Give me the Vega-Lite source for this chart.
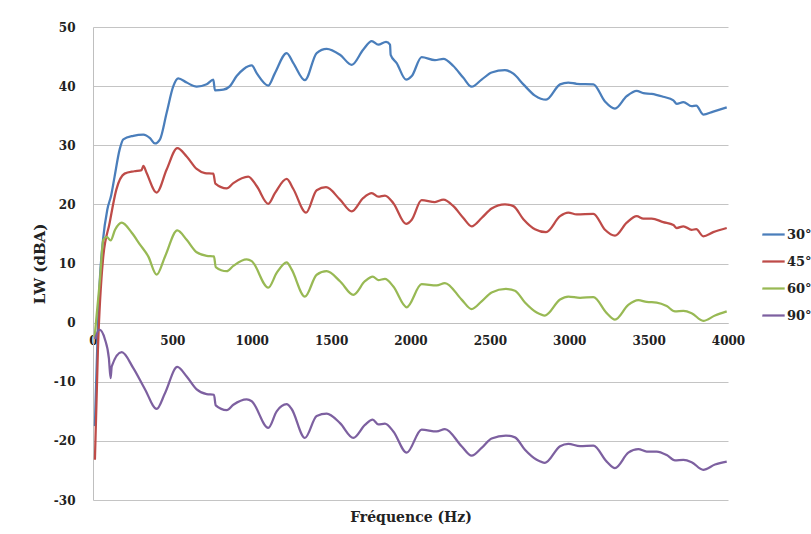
{
  "$schema": "https://vega.github.io/schema/vega-lite/v6.json",
  "width": 635,
  "height": 473,
  "autosize": {"type": "none"},
  "padding": {"left": 93, "top": 27, "right": 83, "bottom": 34},
  "background": "white",
  "config": {"view": {"stroke": null}, "font": "DejaVu Serif"},
  "data": {"values": [
    {"a":"30°","f":12,"v":-17.5},{"a":"30°","f":42,"v":6.8},{"a":"30°","f":63,"v":14},{"a":"30°","f":90,"v":19.1},{"a":"30°","f":115,"v":21.6},{"a":"30°","f":136,"v":24.7},{"a":"30°","f":168,"v":29.3},{"a":"30°","f":191,"v":31},{"a":"30°","f":254,"v":31.6},{"a":"30°","f":317,"v":31.8},{"a":"30°","f":359,"v":31.2},{"a":"30°","f":390,"v":30.3},{"a":"30°","f":422,"v":31},{"a":"30°","f":464,"v":35.5},{"a":"30°","f":506,"v":40},{"a":"30°","f":537,"v":41.3},{"a":"30°","f":590,"v":40.6},{"a":"30°","f":653,"v":39.9},{"a":"30°","f":716,"v":40.3},{"a":"30°","f":758,"v":41.1},{"a":"30°","f":768,"v":39.3},{"a":"30°","f":821,"v":39.4},{"a":"30°","f":863,"v":40},{"a":"30°","f":905,"v":41.7},{"a":"30°","f":950,"v":42.9},{"a":"30°","f":1000,"v":43.5},{"a":"30°","f":1031,"v":42.2},{"a":"30°","f":1104,"v":40.1},{"a":"30°","f":1146,"v":42.2},{"a":"30°","f":1220,"v":45.6},{"a":"30°","f":1262,"v":43.9},{"a":"30°","f":1335,"v":41},{"a":"30°","f":1409,"v":45.6},{"a":"30°","f":1472,"v":46.3},{"a":"30°","f":1556,"v":45.3},{"a":"30°","f":1630,"v":43.6},{"a":"30°","f":1703,"v":46.2},{"a":"30°","f":1756,"v":47.6},{"a":"30°","f":1797,"v":47.0},{"a":"30°","f":1846,"v":47.5},{"a":"30°","f":1871,"v":47.0},{"a":"30°","f":1875,"v":45.3},{"a":"30°","f":1913,"v":43.9},{"a":"30°","f":1972,"v":41.1},{"a":"30°","f":2008,"v":41.7},{"a":"30°","f":2070,"v":44.9},{"a":"30°","f":2154,"v":44.4},{"a":"30°","f":2207,"v":44.6},{"a":"30°","f":2270,"v":43.4},{"a":"30°","f":2333,"v":41.4},{"a":"30°","f":2385,"v":39.9},{"a":"30°","f":2448,"v":41.1},{"a":"30°","f":2511,"v":42.3},{"a":"30°","f":2595,"v":42.7},{"a":"30°","f":2648,"v":42.1},{"a":"30°","f":2711,"v":40.3},{"a":"30°","f":2784,"v":38.4},{"a":"30°","f":2854,"v":37.7},{"a":"30°","f":2942,"v":40.3},{"a":"30°","f":2994,"v":40.6},{"a":"30°","f":3047,"v":40.4},{"a":"30°","f":3152,"v":40.3},{"a":"30°","f":3225,"v":37.4},{"a":"30°","f":3288,"v":36.2},{"a":"30°","f":3362,"v":38.3},{"a":"30°","f":3425,"v":39.2},{"a":"30°","f":3467,"v":38.8},{"a":"30°","f":3519,"v":38.7},{"a":"30°","f":3592,"v":38.2},{"a":"30°","f":3656,"v":37.6},{"a":"30°","f":3677,"v":37.0},{"a":"30°","f":3719,"v":37.3},{"a":"30°","f":3771,"v":36.6},{"a":"30°","f":3800,"v":36.7},{"a":"30°","f":3844,"v":35.2},{"a":"30°","f":3907,"v":35.7},{"a":"30°","f":3992,"v":36.4},
    {"a":"45°","f":12,"v":-23.2},{"a":"45°","f":31,"v":-4.6},{"a":"45°","f":63,"v":10.7},{"a":"45°","f":105,"v":16.9},{"a":"45°","f":147,"v":22.5},{"a":"45°","f":199,"v":25.2},{"a":"45°","f":260,"v":25.6},{"a":"45°","f":306,"v":25.8},{"a":"45°","f":317,"v":26.5},{"a":"45°","f":338,"v":25.3},{"a":"45°","f":401,"v":22.0},{"a":"45°","f":464,"v":25.9},{"a":"45°","f":531,"v":29.5},{"a":"45°","f":590,"v":28.1},{"a":"45°","f":653,"v":26.0},{"a":"45°","f":705,"v":25.3},{"a":"45°","f":758,"v":25.2},{"a":"45°","f":771,"v":23.5},{"a":"45°","f":842,"v":22.7},{"a":"45°","f":884,"v":23.6},{"a":"45°","f":978,"v":24.7},{"a":"45°","f":1031,"v":23.1},{"a":"45°","f":1104,"v":20.1},{"a":"45°","f":1146,"v":21.9},{"a":"45°","f":1220,"v":24.3},{"a":"45°","f":1262,"v":22.6},{"a":"45°","f":1342,"v":18.6},{"a":"45°","f":1409,"v":22.4},{"a":"45°","f":1468,"v":22.9},{"a":"45°","f":1556,"v":20.8},{"a":"45°","f":1630,"v":18.8},{"a":"45°","f":1703,"v":21.1},{"a":"45°","f":1756,"v":21.9},{"a":"45°","f":1797,"v":21.3},{"a":"45°","f":1839,"v":21.5},{"a":"45°","f":1892,"v":20.2},{"a":"45°","f":1972,"v":16.7},{"a":"45°","f":2008,"v":17.4},{"a":"45°","f":2070,"v":20.7},{"a":"45°","f":2154,"v":20.4},{"a":"45°","f":2207,"v":20.8},{"a":"45°","f":2270,"v":19.7},{"a":"45°","f":2333,"v":17.7},{"a":"45°","f":2385,"v":16.3},{"a":"45°","f":2448,"v":17.7},{"a":"45°","f":2511,"v":19.3},{"a":"45°","f":2595,"v":20.0},{"a":"45°","f":2648,"v":19.7},{"a":"45°","f":2711,"v":17.5},{"a":"45°","f":2784,"v":15.8},{"a":"45°","f":2854,"v":15.3},{"a":"45°","f":2942,"v":18.0},{"a":"45°","f":2994,"v":18.6},{"a":"45°","f":3047,"v":18.3},{"a":"45°","f":3152,"v":18.4},{"a":"45°","f":3225,"v":15.7},{"a":"45°","f":3288,"v":14.7},{"a":"45°","f":3362,"v":16.9},{"a":"45°","f":3425,"v":18.0},{"a":"45°","f":3467,"v":17.6},{"a":"45°","f":3519,"v":17.6},{"a":"45°","f":3592,"v":17.0},{"a":"45°","f":3656,"v":16.5},{"a":"45°","f":3677,"v":16.0},{"a":"45°","f":3719,"v":16.3},{"a":"45°","f":3771,"v":15.7},{"a":"45°","f":3800,"v":15.8},{"a":"45°","f":3844,"v":14.6},{"a":"45°","f":3907,"v":15.3},{"a":"45°","f":3992,"v":16.0},
    {"a":"60°","f":10,"v":-2.5},{"a":"60°","f":44,"v":7.3},{"a":"60°","f":65,"v":14},{"a":"60°","f":86,"v":14.5},{"a":"60°","f":111,"v":13.9},{"a":"60°","f":139,"v":15.7},{"a":"60°","f":181,"v":16.9},{"a":"60°","f":244,"v":15.2},{"a":"60°","f":296,"v":13.2},{"a":"60°","f":348,"v":11.2},{"a":"60°","f":401,"v":8.1},{"a":"60°","f":454,"v":11.2},{"a":"60°","f":531,"v":15.6},{"a":"60°","f":590,"v":14.0},{"a":"60°","f":653,"v":11.9},{"a":"60°","f":716,"v":11.3},{"a":"60°","f":762,"v":11.2},{"a":"60°","f":773,"v":9.4},{"a":"60°","f":842,"v":8.7},{"a":"60°","f":884,"v":9.6},{"a":"60°","f":968,"v":10.7},{"a":"60°","f":1000,"v":10.4},{"a":"60°","f":1104,"v":5.9},{"a":"60°","f":1157,"v":8.4},{"a":"60°","f":1220,"v":10.2},{"a":"60°","f":1251,"v":9.0},{"a":"60°","f":1335,"v":4.4},{"a":"60°","f":1409,"v":8.1},{"a":"60°","f":1472,"v":8.7},{"a":"60°","f":1556,"v":7.0},{"a":"60°","f":1640,"v":4.7},{"a":"60°","f":1713,"v":7.0},{"a":"60°","f":1762,"v":7.8},{"a":"60°","f":1797,"v":7.2},{"a":"60°","f":1839,"v":7.4},{"a":"60°","f":1892,"v":6.1},{"a":"60°","f":1976,"v":2.6},{"a":"60°","f":2070,"v":6.5},{"a":"60°","f":2165,"v":6.3},{"a":"60°","f":2217,"v":6.7},{"a":"60°","f":2322,"v":3.9},{"a":"60°","f":2385,"v":2.3},{"a":"60°","f":2448,"v":3.6},{"a":"60°","f":2511,"v":5.1},{"a":"60°","f":2601,"v":5.7},{"a":"60°","f":2658,"v":5.4},{"a":"60°","f":2721,"v":3.4},{"a":"60°","f":2795,"v":1.7},{"a":"60°","f":2847,"v":1.2},{"a":"60°","f":2942,"v":3.9},{"a":"60°","f":2994,"v":4.4},{"a":"60°","f":3068,"v":4.2},{"a":"60°","f":3152,"v":4.3},{"a":"60°","f":3236,"v":1.6},{"a":"60°","f":3288,"v":0.5},{"a":"60°","f":3372,"v":3.0},{"a":"60°","f":3435,"v":3.8},{"a":"60°","f":3488,"v":3.5},{"a":"60°","f":3551,"v":3.4},{"a":"60°","f":3614,"v":2.8},{"a":"60°","f":3666,"v":1.9},{"a":"60°","f":3719,"v":2.0},{"a":"60°","f":3771,"v":1.6},{"a":"60°","f":3844,"v":0.3},{"a":"60°","f":3918,"v":1.2},{"a":"60°","f":3992,"v":1.9},
    {"a":"90°","f":13,"v":-2.8},{"a":"90°","f":40,"v":-1.2},{"a":"90°","f":76,"v":-2.9},{"a":"90°","f":100,"v":-6},{"a":"90°","f":111,"v":-9.4},{"a":"90°","f":118,"v":-7.4},{"a":"90°","f":181,"v":-5.0},{"a":"90°","f":254,"v":-7.7},{"a":"90°","f":328,"v":-11.3},{"a":"90°","f":401,"v":-14.6},{"a":"90°","f":454,"v":-11.9},{"a":"90°","f":531,"v":-7.5},{"a":"90°","f":590,"v":-9.1},{"a":"90°","f":653,"v":-11.3},{"a":"90°","f":716,"v":-12.1},{"a":"90°","f":762,"v":-12.2},{"a":"90°","f":773,"v":-14.0},{"a":"90°","f":842,"v":-14.8},{"a":"90°","f":884,"v":-13.9},{"a":"90°","f":968,"v":-13.0},{"a":"90°","f":1000,"v":-13.3},{"a":"90°","f":1104,"v":-17.8},{"a":"90°","f":1157,"v":-15.0},{"a":"90°","f":1220,"v":-13.8},{"a":"90°","f":1251,"v":-14.6},{"a":"90°","f":1335,"v":-19.5},{"a":"90°","f":1409,"v":-15.8},{"a":"90°","f":1472,"v":-15.4},{"a":"90°","f":1556,"v":-17.0},{"a":"90°","f":1640,"v":-19.5},{"a":"90°","f":1713,"v":-17.3},{"a":"90°","f":1762,"v":-16.4},{"a":"90°","f":1797,"v":-17.2},{"a":"90°","f":1839,"v":-17.1},{"a":"90°","f":1892,"v":-18.4},{"a":"90°","f":1976,"v":-22.0},{"a":"90°","f":2070,"v":-18.1},{"a":"90°","f":2165,"v":-18.4},{"a":"90°","f":2217,"v":-18.0},{"a":"90°","f":2322,"v":-20.9},{"a":"90°","f":2385,"v":-22.5},{"a":"90°","f":2448,"v":-21.2},{"a":"90°","f":2511,"v":-19.6},{"a":"90°","f":2601,"v":-19.1},{"a":"90°","f":2658,"v":-19.4},{"a":"90°","f":2721,"v":-21.5},{"a":"90°","f":2795,"v":-23.2},{"a":"90°","f":2847,"v":-23.7},{"a":"90°","f":2942,"v":-20.9},{"a":"90°","f":2994,"v":-20.5},{"a":"90°","f":3068,"v":-20.9},{"a":"90°","f":3152,"v":-20.8},{"a":"90°","f":3236,"v":-23.5},{"a":"90°","f":3288,"v":-24.6},{"a":"90°","f":3372,"v":-22.0},{"a":"90°","f":3435,"v":-21.4},{"a":"90°","f":3488,"v":-21.8},{"a":"90°","f":3551,"v":-21.8},{"a":"90°","f":3614,"v":-22.4},{"a":"90°","f":3666,"v":-23.3},{"a":"90°","f":3719,"v":-23.2},{"a":"90°","f":3771,"v":-23.6},{"a":"90°","f":3844,"v":-24.9},{"a":"90°","f":3918,"v":-24.0},{"a":"90°","f":3992,"v":-23.5}
  ]},
  "mark": {"type": "line", "interpolate": "monotone", "strokeWidth": 2.25},
  "encoding": {
    "x": {
      "field": "f", "type": "quantitative",
      "scale": {"domain": [0, 4000], "nice": false},
      "axis": {
        "values": [0, 500, 1000, 1500, 2000, 2500, 3000, 3500, 4000],
        "labelExpr": "toString(datum.value)",
        "grid": false, "ticks": false, "offset": -177,
        "domainColor": "#BFBFBF", "labelFlush": false,
        "labelFont": "DejaVu Serif", "labelFontWeight": "bold", "labelFontSize": 12,
        "labelColor": "#222222", "labelPadding": 12,
        "title": "Fréquence (Hz)", "titleFont": "DejaVu Serif", "titleFontWeight": "bold",
        "titleFontSize": 14, "titleColor": "#222222", "titleY": 194, "titleBaseline": "middle"
      }
    },
    "y": {
      "field": "v", "type": "quantitative",
      "scale": {"domain": [-30, 50], "nice": false},
      "axis": {
        "values": [-30, -20, -10, 0, 10, 20, 30, 40, 50],
        "labelExpr": "toString(datum.value)",
        "grid": true, "gridColor": "#C4C4C4", "gridWidth": 1,
        "ticks": false, "domainColor": "#BFBFBF",
        "labelFont": "DejaVu Serif", "labelFontWeight": "bold", "labelFontSize": 12,
        "labelColor": "#222222", "labelPadding": 18,
        "title": "LW (dBA)", "titleFont": "DejaVu Serif", "titleFontWeight": "bold",
        "titleFontSize": 15, "titleColor": "#222222", "titlePadding": 6
      }
    },
    "color": {
      "field": "a", "type": "nominal",
      "scale": {"domain": ["30°", "45°", "60°", "90°"], "range": ["#4A7EBB", "#BE4B48", "#98B954", "#7D60A0"]},
      "legend": {
        "title": null, "orient": "none", "legendX": 668, "legendY": 195,
        "symbolType": "stroke", "symbolSize": 500, "symbolStrokeWidth": 2.25,
        "labelFont": "DejaVu Serif", "labelFontWeight": "bold", "labelFontSize": 13,
        "labelColor": "#222222", "labelOffset": 1, "rowPadding": 7
      }
    }
  }
}
